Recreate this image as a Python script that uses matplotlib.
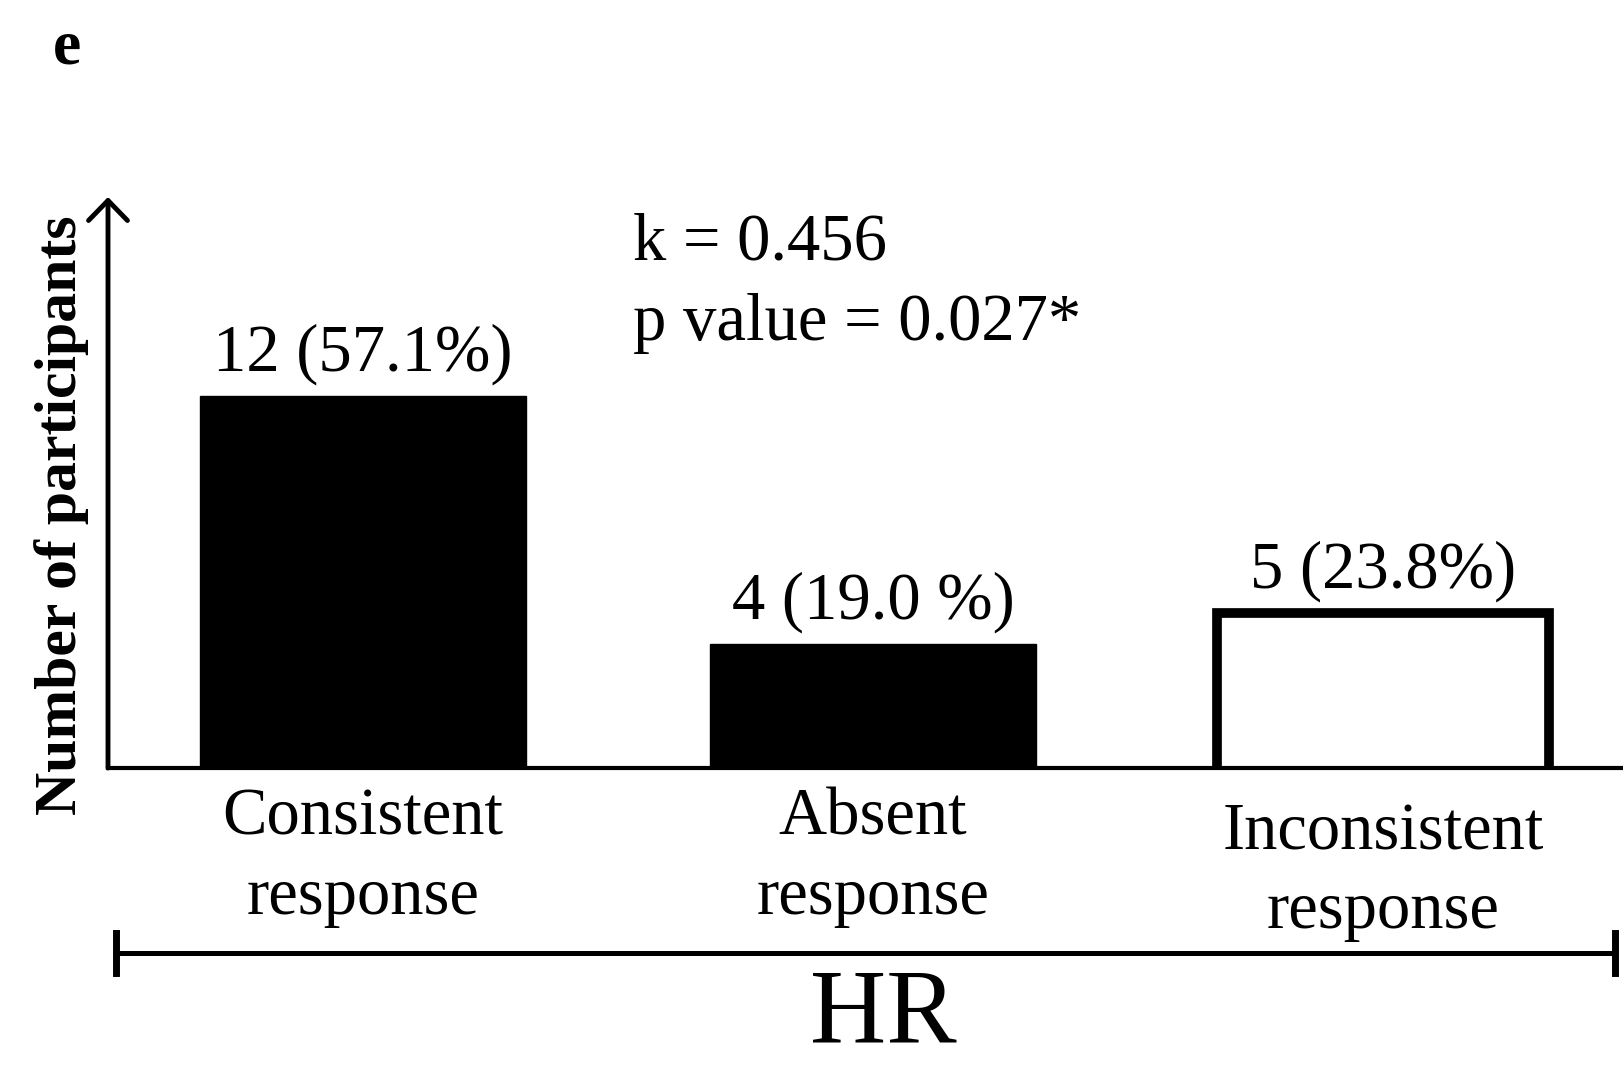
import matplotlib
matplotlib.use('Agg')
import matplotlib.pyplot as plt
from matplotlib.lines import Line2D

categories = ['Consistent\nresponse', 'Absent\nresponse', 'Inconsistent\nresponse']
counts = [12, 4, 5]
value_labels = ['12 (57.1%)', '4 (19.0 %)', '5 (23.8%)']
filled = [True, True, False]
stats_lines = ['k = 0.456', 'p value = 0.027*']
group_label = 'HR'
panel_label = 'e'
y_label = 'Number of participants'

plt.rcParams['font.family'] = ['Liberation Serif', 'DejaVu Serif']

fig = plt.figure(figsize=(16.23, 10.67), dpi=100)
ax = fig.add_axes([108 / 1623, 1 - 768 / 1067, 1 - 108 / 1623, 571 / 1067])

w = 0.64
xs = list(range(len(counts)))
for x, v, f in zip(xs, counts, filled):
    if f:
        ax.bar(x, v, width=w, color='black', edgecolor='black', linewidth=1, zorder=2)
    else:
        # open bar: outline on three sides only, bottom is the axis
        ax.bar(x, v, width=w + 0.01, color='white', linewidth=0, zorder=2)
        xl, xr = x - (w + 0.01) / 2, x + (w + 0.01) / 2
        ax.plot([xl, xl, xr, xr], [0, v, v, 0],
                color='black', lw=7, solid_joinstyle='miter', zorder=3)

for x, v, lab in zip(xs, counts, value_labels):
    ax.annotate(lab, xy=(x, v), xytext=(0, 18), textcoords='offset points',
                ha='center', va='baseline', fontsize=48)

# category labels under the axis
label_tops = [-0.035, -0.035, -0.06]
for x, lab, yt in zip(xs, categories, label_tops):
    ax.text(x, yt, lab, transform=ax.get_xaxis_transform(), ha='center', va='top',
            fontsize=48, linespacing=1.38)

ax.set_xlim(-0.5, 2.47)
ax.set_ylim(0, 18.4)
ax.set_xticks([])
ax.set_yticks([])
for s in ['top', 'right', 'left']:
    ax.spines[s].set_visible(False)
ax.spines['bottom'].set_linewidth(3)
ax.spines['bottom'].set_zorder(4)

# y axis with arrow head
ax.annotate('', xy=(0, 1.0), xytext=(0, 0), xycoords='axes fraction',
            arrowprops=dict(arrowstyle='->, head_length=0.36, head_width=0.35',
                            lw=3.5, color='black', mutation_scale=40,
                            shrinkA=0, shrinkB=0), annotation_clip=False)

fig.text(0.038, 1 - 515 / 1067, y_label, rotation=90, ha='center', va='center',
         fontsize=43, fontweight='bold')
fig.text(53 / 1623, 1 - 63 / 1067, panel_label, fontsize=46, fontweight='bold',
         va='baseline')

fig.text(633 / 1623, 1 - 259 / 1067, stats_lines[0], fontsize=48, va='baseline')
fig.text(633 / 1623, 1 - 340 / 1067, stats_lines[1], fontsize=48, va='baseline')

# group bracket
yb = 1 - 953 / 1067
x0, x1 = 116 / 1623, 1615 / 1623
cap = 20 / 1067
fig.add_artist(Line2D([x0, x1], [yb, yb], color='black', lw=3.6, transform=fig.transFigure))
fig.add_artist(Line2D([x0, x0], [yb - cap, yb + cap], color='black', lw=5, transform=fig.transFigure))
fig.add_artist(Line2D([x1, x1], [yb - cap, yb + cap], color='black', lw=5, transform=fig.transFigure))
fig.text(883 / 1623, 1 - 1042 / 1067, group_label, fontsize=76, ha='center', va='baseline')

fig.savefig('out.png', dpi=100)
